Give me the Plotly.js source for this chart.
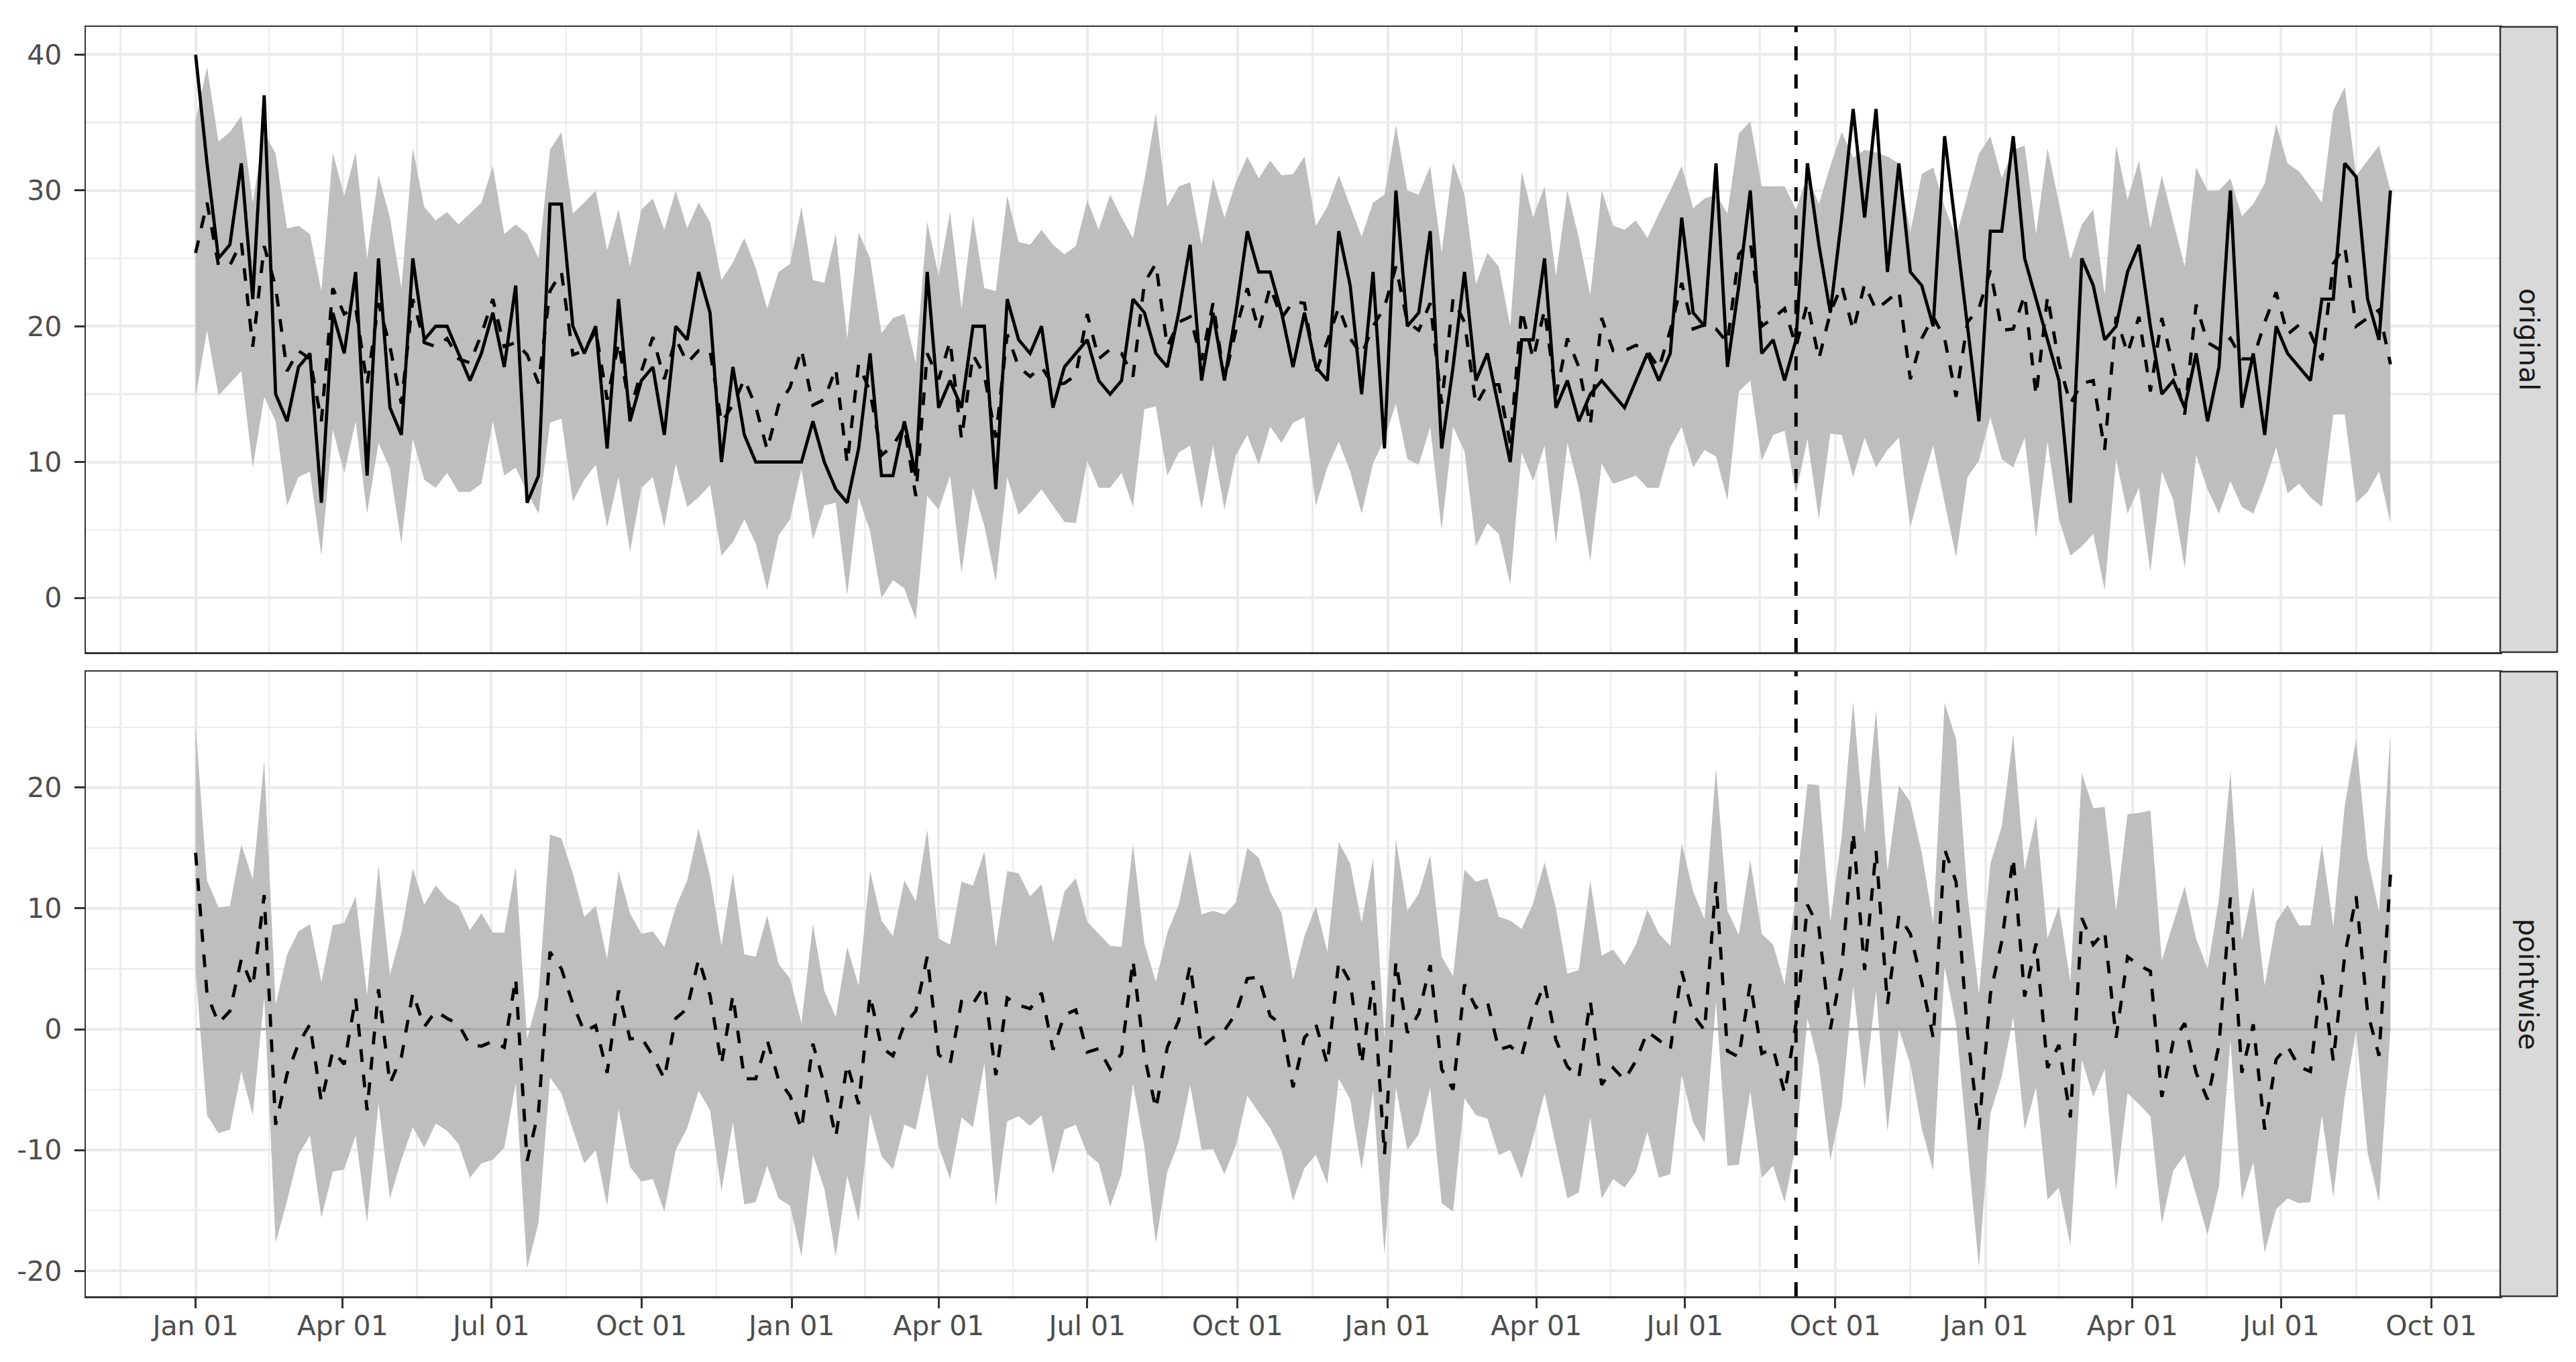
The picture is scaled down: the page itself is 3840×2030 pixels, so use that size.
<!DOCTYPE html>
<html>
<head>
<meta charset="utf-8">
<script src="https://cdn.plot.ly/plotly-3.0.1.min.js"></script>
<style>html,body{margin:0;padding:0;background:#fff;}#chart{width:3840px;height:2030px;}</style>
</head>
<body>
<div id="chart"></div>
<script>
// ---- data (weekly series) ----
const startDate = '2018-01-01';
const interventionDate = '2020-09-07';
const panelLabels = ['original', 'pointwise'];
const tickLabelsFormat = '%b %d';
const effectTicks = [-20, -10, 0, 10, 20];
const effectTickText = ['-20', '-10', '0', '10', '20'];
const originalTicks = [0, 10, 20, 30, 40];

const actual = [40,32,25,26,32,22,37,15,13,17,18,7,21,18,24,9,25,14,12,25,
19,20,20,18,16,18,21,17,23,7,9,29,29,20,18,20,11,22,13,16,
17,12,20,19,24,21,10,17,12,10,10,10,10,10,13,10,8,7,11,18,
9,9,13,9,24,14,16,14,20,20,8,22,19,18,20,14,17,18,19,16,
15,16,22,21,18,17,21,26,16,21,16,21,27,24,24,21,17,21,17,16,
27,23,15,24,11,30,20,21,27,11,17,24,16,18,14,10,19,19,25,14,
16,13,15,16,15,14,16,18,16,18,28,21,20,32,17,23,30,18,19,16,
19,32,26,21,28,36,28,36,24,32,24,23,20,34,27,20,13,27,27,34,
25,22,19,16,7,25,23,19,20,24,26,20,15,16,14,18,13,17,30,14,
18,12,20,18,17,16,22,22,32,31,22,19,30];

const predicted = [25.4,29.1,24.5,24.5,26.2,18.5,25.9,22.9,16.7,18.2,17.6,13.0,22.8,20.9,21.4,15.7,21.7,18.5,14.3,22.0,
18.8,18.5,19.1,17.6,17.3,19.4,22.0,18.5,18.8,17.9,15.8,22.6,24.0,17.9,18.2,19.7,14.6,18.8,13.8,16.7,
19.2,16.1,19.1,17.3,18.2,18.2,12.9,14.2,16.1,14.1,10.9,14.2,15.5,18.3,14.2,14.6,16.9,9.9,17.2,15.2,
10.5,11.2,12.6,7.5,18.0,16.1,18.9,11.7,17.9,16.4,11.8,19.4,17.0,16.3,17.0,15.7,15.8,16.4,20.9,17.6,
18.3,18.0,16.3,23.2,24.6,18.5,20.3,20.7,17.5,21.7,16.1,19.7,22.8,19.7,22.9,20.6,21.8,21.7,16.6,18.9,
21.4,19.1,17.9,20.0,21.4,24.4,20.3,19.7,21.7,14.3,22.0,20.3,14.2,15.7,15.7,11.4,21.2,17.6,21.2,14.9,
19.1,17.0,12.7,20.6,18.2,18.2,18.6,18.2,16.9,19.7,23.2,19.8,20.1,19.8,18.8,25.3,26.2,20.0,20.6,21.3,
18.5,21.7,17.6,21.0,23.0,19.7,23.1,21.2,21.9,22.6,16.1,19.1,20.7,19.1,14.8,20.3,21.3,24.1,19.7,19.8,
22.3,14.9,22.2,17.3,14.3,15.8,16.0,10.9,20.7,18.0,20.7,15.2,20.6,17.0,13.5,21.6,18.8,18.3,19.1,17.6,
17.6,20.3,22.5,19.4,20.1,19.5,17.5,24.6,25.9,20.0,20.6,21.2,17.2];

const predUpper = [35.2,39.1,33.6,34.3,35.5,29.1,34.3,32.7,27.2,27.4,26.8,22.6,32.8,29.6,32.8,25.0,31.1,28.0,22.8,33.1,
28.8,27.8,28.4,27.5,28.3,29.1,31.8,26.8,27.5,26.8,25.0,33.0,34.3,28.3,29.1,30.0,25.6,28.6,24.4,28.6,
29.4,27.1,30.0,27.2,29.1,27.7,23.4,24.7,26.5,24.3,21.3,24.0,24.6,28.8,23.4,23.2,26.8,19.1,26.9,25.0,
19.5,20.6,20.9,17.3,27.7,23.7,28.4,21.3,28.1,22.8,22.6,29.6,26.2,26.0,27.1,26.0,25.3,25.9,29.3,27.1,
29.7,28.0,26.5,30.8,35.7,28.8,30.3,30.6,26.0,30.9,28.0,30.6,32.5,30.9,32.2,31.1,31.2,32.5,27.4,28.8,
31.1,28.8,26.6,29.1,29.7,34.8,30.0,29.7,31.8,25.4,32.1,29.7,23.1,25.4,24.4,20.0,31.4,28.0,30.3,23.7,
30.0,26.5,22.3,30.0,27.4,27.1,27.8,26.5,28.3,30.0,31.8,28.7,29.4,29.7,28.3,34.2,35.1,30.3,30.3,30.3,
28.6,31.1,29.0,31.8,34.3,32.4,33.0,32.8,32.5,32.0,26.9,31.2,31.7,28.8,26.6,29.7,32.7,34.0,30.9,33.0,
33.3,26.8,33.1,29.1,24.9,27.5,28.6,22.3,33.3,29.3,32.2,27.2,31.1,27.7,24.4,31.7,30.0,30.0,30.9,28.1,
29.0,30.5,34.9,32.0,31.4,30.3,29.1,35.9,37.6,31.1,32.2,33.3,30.0];

const predLower = [14.8,19.7,14.9,15.8,16.7,9.6,14.8,13.0,6.8,8.9,9.3,3.1,12.4,9.2,13.0,6.2,11.4,9.5,4.0,11.7,
8.7,8.1,9.2,7.8,7.8,8.4,13.0,9.0,9.6,7.8,6.2,12.9,13.2,7.1,8.7,9.8,5.2,8.9,3.4,8.1,
8.9,5.2,9.9,6.7,7.4,8.3,3.1,4.1,5.8,4.0,0.6,4.6,5.8,9.5,4.3,6.8,7.0,0.2,7.4,4.9,
0.0,1.3,0.7,-1.6,7.5,6.5,9.0,1.8,8.1,5.3,1.2,8.9,6.1,7.0,8.0,6.8,5.6,5.5,10.1,8.1,
8.1,9.2,6.7,13.9,14.1,9.0,10.7,11.2,6.5,11.2,6.5,10.5,12.0,9.8,12.6,11.4,12.9,13.3,6.8,9.6,
11.5,9.3,6.2,9.9,11.7,14.3,10.2,9.8,12.6,5.0,12.6,10.8,3.8,5.5,4.7,1.0,10.7,8.6,11.2,4.0,
11.4,8.1,2.7,9.9,8.4,8.7,9.0,8.1,8.1,11.1,12.6,9.6,10.9,10.4,7.2,15.2,16.0,10.1,12.0,12.3,
7.7,11.7,5.8,12.1,12.0,8.9,11.8,9.6,10.9,11.8,5.2,8.4,11.2,7.0,3.0,8.9,10.1,13.3,10.2,9.6,
11.8,4.4,11.5,5.8,3.1,3.8,4.7,0.6,10.2,6.2,8.1,1.9,9.3,7.2,2.2,10.5,8.0,6.2,8.6,6.7,
6.2,8.4,11.1,7.7,8.4,7.4,6.7,13.5,13.5,7.0,7.8,9.3,5.5];

// ---- time index (weekly) ----
const DAY = 86400000;
const t0 = Date.parse(startDate + 'T00:00:00Z');
const dates = actual.map((_, i) => new Date(t0 + i * 7 * DAY).toISOString().slice(0, 10));

// ---- pointwise effect, derived from the series above ----
const effect = actual.map((v, i) => v - predicted[i]);
const effectLower = actual.map((v, i) => v - predUpper[i]);
const effectUpper = actual.map((v, i) => v - predLower[i]);
const zeroLine = actual.map(() => 0);

// ---- axis breaks ----
const majorDates = [];
for (let y = 2017; y <= 2021; y++) for (const m of ['01','04','07','10']) majorDates.push(`${y}-${m}-01`);
const majorMs = majorDates.map(d => Date.parse(d + 'T00:00:00Z'));
const minorDates = [];
for (let i = 0; i < majorMs.length - 1; i++) minorDates.push(new Date((majorMs[i] + majorMs[i+1]) / 2).toISOString());
const tEnd = Date.parse(dates[dates.length - 1] + 'T00:00:00Z');
const span = tEnd - t0;
const xRange = [new Date(t0 - 0.05 * span).toISOString(), new Date(tEnd + 0.05 * span).toISOString()];

// ---- styling ----
const BAND = '#BEBEBE';
const GRID = '#EBEBEB';
const BORDER = '#333333';
const FONT = 'DejaVu Sans, Verdana, sans-serif';
const tickFont = {family: FONT, size: 41, color: '#4D4D4D'};

const LINE_W = 4.8;
const DASH = '19px,19px';

function band(lo, hi, xa, ya) {
  return [
    {x: dates, y: lo, xaxis: xa, yaxis: ya, type: 'scatter', mode: 'lines', line: {width: 0, color: BAND}, hoverinfo: 'skip', showlegend: false},
    {x: dates, y: hi, xaxis: xa, yaxis: ya, type: 'scatter', mode: 'lines', line: {width: 0, color: BAND}, fill: 'tonexty', fillcolor: BAND, hoverinfo: 'skip', showlegend: false}
  ];
}

const traces = [
  ...band(predLower, predUpper, 'x2', 'y2'),
  {x: dates, y: predicted, xaxis: 'x2', yaxis: 'y2', type: 'scatter', mode: 'lines', line: {color: '#000', width: LINE_W, dash: DASH}, showlegend: false},
  {x: dates, y: actual, xaxis: 'x2', yaxis: 'y2', type: 'scatter', mode: 'lines', line: {color: '#000', width: LINE_W}, showlegend: false},
  ...band(effectLower, effectUpper, 'x', 'y'),
  {x: dates, y: zeroLine, xaxis: 'x', yaxis: 'y', type: 'scatter', mode: 'lines', line: {color: '#A9A9A9', width: 3.5}, hoverinfo: 'skip', showlegend: false},
  {x: dates, y: effect, xaxis: 'x', yaxis: 'y', type: 'scatter', mode: 'lines', line: {color: '#000', width: LINE_W, dash: DASH}, showlegend: false}
];

const Lpx = 128, Rpx = 3727, Tpx = 40, Bpx = 1932;
const ph = Bpx - Tpx;
const topDom = [(Bpx - 972) / ph, 1];
const botDom = [0, (Bpx - 1001) / ph];
const stripX1 = 1 + (3812 - Rpx) / (Rpx - Lpx);

const xCommon = {
  type: 'date', range: xRange,
  tickmode: 'array', tickvals: majorDates, tickformat: tickLabelsFormat,
  showgrid: true, gridcolor: GRID, gridwidth: 4,
  minor: {tickmode: 'array', tickvals: minorDates, showgrid: true, gridcolor: GRID, gridwidth: 2.5, ticks: ''},
  showline: true, linecolor: BORDER, linewidth: 2.5, mirror: true, zeroline: false,
  tickfont: tickFont
};

const layout = {
  width: 3840, height: 2030,
  margin: {l: Lpx, r: 3840 - Rpx, t: Tpx, b: 2030 - Bpx, pad: 0},
  paper_bgcolor: '#FFFFFF', plot_bgcolor: '#FFFFFF',
  showlegend: false,
  xaxis: Object.assign({}, xCommon, {anchor: 'y', domain: [0, 1], ticks: 'outside', ticklen: 15, tickwidth: 3, tickcolor: BORDER, ticklabelstandoff: -9}),
  xaxis2: Object.assign({}, xCommon, {anchor: 'y2', domain: [0, 1], matches: 'x', showticklabels: false, ticks: ''}),
  yaxis: {
    domain: botDom, range: [-22.1, 29.6], tickmode: 'array', tickvals: effectTicks, ticktext: effectTickText,
    showgrid: true, gridcolor: GRID, gridwidth: 4,
    minor: {tickmode: 'array', tickvals: [-15, -5, 5, 15, 25], showgrid: true, gridcolor: GRID, gridwidth: 2.5, ticks: ''},
    showline: true, linecolor: BORDER, linewidth: 2.5, mirror: true, zeroline: false,
    ticks: 'outside', ticklen: 15, tickwidth: 3, tickcolor: BORDER, tickfont: tickFont, ticklabelstandoff: 10
  },
  yaxis2: {
    domain: topDom, range: [-4.0, 42.05], tickmode: 'array', tickvals: originalTicks,
    showgrid: true, gridcolor: GRID, gridwidth: 4,
    minor: {tickmode: 'array', tickvals: [5, 15, 25, 35], showgrid: true, gridcolor: GRID, gridwidth: 2.5, ticks: ''},
    showline: true, linecolor: BORDER, linewidth: 2.5, mirror: true, zeroline: false,
    ticks: 'outside', ticklen: 15, tickwidth: 3, tickcolor: BORDER, tickfont: tickFont, ticklabelstandoff: 10
  },
  shapes: [
    {type: 'line', xref: 'x2', yref: 'y2 domain', x0: interventionDate, x1: interventionDate, y0: 0, y1: 1, line: {color: '#000', width: 5, dash: '21px,21px'}},
    {type: 'line', xref: 'x', yref: 'y domain', x0: interventionDate, x1: interventionDate, y0: 0, y1: 1, line: {color: '#000', width: 5, dash: '21px,21px'}},
    {type: 'rect', xref: 'paper', yref: 'paper', x0: 1, x1: stripX1, y0: topDom[0], y1: topDom[1], fillcolor: '#D9D9D9', line: {color: BORDER, width: 2.5}},
    {type: 'rect', xref: 'paper', yref: 'paper', x0: 1, x1: stripX1, y0: botDom[0], y1: botDom[1], fillcolor: '#D9D9D9', line: {color: BORDER, width: 2.5}}
  ],
  annotations: [
    {xref: 'paper', yref: 'paper', x: (1 + stripX1) / 2, y: (topDom[0] + topDom[1]) / 2, text: panelLabels[0], textangle: 90, showarrow: false, xanchor: 'center', yanchor: 'middle', font: {family: FONT, size: 41, color: '#1A1A1A'}},
    {xref: 'paper', yref: 'paper', x: (1 + stripX1) / 2, y: (botDom[0] + botDom[1]) / 2, text: panelLabels[1], textangle: 90, showarrow: false, xanchor: 'center', yanchor: 'middle', font: {family: FONT, size: 41, color: '#1A1A1A'}}
  ]
};

Plotly.newPlot('chart', traces, layout, {staticPlot: true, displayModeBar: false});
</script>
</body>
</html>
